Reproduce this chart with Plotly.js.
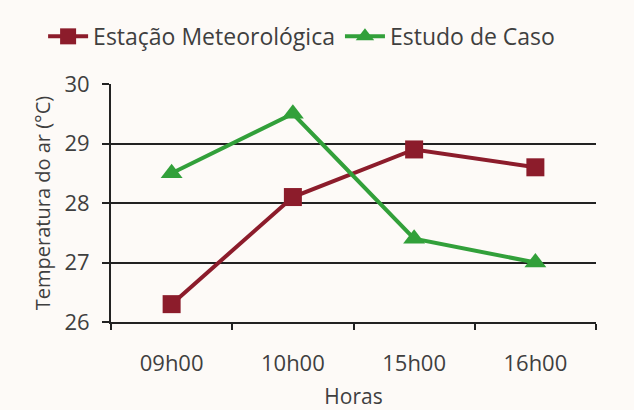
<!DOCTYPE html>
<html>
<head>
<meta charset="utf-8">
<script src="https://cdn.plot.ly/plotly-3.0.1.min.js"></script>
<style>
  html, body { margin: 0; padding: 0; background: #fdfaf7; }
  #chart { width: 634px; height: 410px; }
</style>
</head>
<body>
<div id="chart"></div>
<script>
// Hourly air temperature: weather station vs. case study
const horas = ["09h00", "10h00", "15h00", "16h00"];
const estacaoMeteorologica = [26.3, 28.1, 28.9, 28.6];
const estudoDeCaso = [28.5, 29.5, 27.4, 27.0];
const yTicks = [26, 27, 28, 29, 30];

const fontFamily = "'Open Sans', 'Noto Sans', sans-serif";
const textColor = "#3f3f3f";

const traces = [
  {
    x: horas, y: estacaoMeteorologica,
    name: "Estação Meteorológica",
    type: "scatter", mode: "lines+markers",
    line: { color: "#8c1c2b", width: 4 },
    marker: { symbol: "square", size: 18, color: "#8c1c2b" }
  },
  {
    x: horas, y: estudoDeCaso,
    name: "Estudo de Caso",
    type: "scatter", mode: "lines+markers",
    line: { color: "#32a03a", width: 4 },
    marker: { symbol: "triangle-up", size: 19, color: "#32a03a" }
  }
];

const layout = {
  width: 634, height: 410,
  paper_bgcolor: "#fdfaf7",
  plot_bgcolor: "#fdfaf7",
  margin: { l: 111, r: 38, t: 84, b: 88, autoexpand: false },
  font: { family: fontFamily, size: 20, color: textColor },
  showlegend: true,
  legend: {
    orientation: "h",
    x: -0.14, xanchor: "left",
    y: 1.2, yanchor: "middle",
    font: { family: fontFamily, size: 23, color: textColor },
    bgcolor: "rgba(0,0,0,0)",
    itemwidth: 40,
    tracegroupgap: 0
  },
  xaxis: {
    type: "category",
    tickvals: horas,
    ticktext: horas,
    tickson: "boundaries",
    ticks: "outside", ticklen: 6, tickwidth: 2, tickcolor: "#222",
    ticklabelstandoff: 21,
    showline: true, linecolor: "#222", linewidth: 2,
    showgrid: false, zeroline: false,
    tickfont: { size: 22, color: textColor },
    title: { text: "Horas", font: { size: 21, color: textColor }, standoff: 14 },
    range: [-0.5, 3.5],
    fixedrange: true
  },
  yaxis: {
    range: [26, 30],
    tickvals: yTicks,
    ticks: "outside", ticklen: 7, tickwidth: 2, tickcolor: "#222",
    ticklabelstandoff: 8,
    showline: true, linecolor: "#222", linewidth: 2,
    showgrid: true, gridcolor: "#222", gridwidth: 2,
    zeroline: false,
    tickfont: { size: 22, color: textColor },
    title: { text: "Temperatura do ar (°C)", font: { size: 20, color: textColor }, standoff: 8 },
    fixedrange: true
  }
};

Plotly.newPlot("chart", traces, layout, { displayModeBar: false, staticPlot: true });
</script>
</body>
</html>
